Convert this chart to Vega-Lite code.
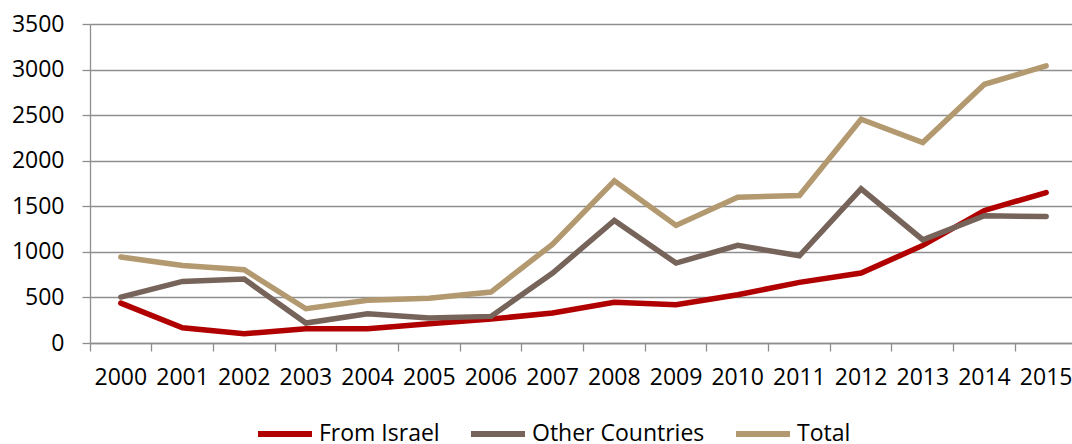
{
  "$schema": "https://vega.github.io/schema/vega-lite/v6.json",
  "width": 987,
  "height": 319,
  "autosize": {"type": "none"},
  "padding": {"left": 90, "top": 24, "right": 0, "bottom": 101},
  "background": "white",
  "config": {
    "view": {"stroke": null},
    "font": "Open Sans",
    "axis": {"labelFont": "Open Sans", "labelColor": "#000000", "domainColor": "#8e8e8e", "tickColor": "#8e8e8e", "gridColor": "#8e8e8e", "domainWidth": 1.3, "tickWidth": 1.3, "gridWidth": 1.3}
  },
  "data": {
    "values": [
      {"year": "2000", "series": "From Israel", "value": 438},
      {"year": "2001", "series": "From Israel", "value": 168},
      {"year": "2002", "series": "From Israel", "value": 102},
      {"year": "2003", "series": "From Israel", "value": 157},
      {"year": "2004", "series": "From Israel", "value": 157},
      {"year": "2005", "series": "From Israel", "value": 212},
      {"year": "2006", "series": "From Israel", "value": 263},
      {"year": "2007", "series": "From Israel", "value": 329},
      {"year": "2008", "series": "From Israel", "value": 446},
      {"year": "2009", "series": "From Israel", "value": 420},
      {"year": "2010", "series": "From Israel", "value": 530},
      {"year": "2011", "series": "From Israel", "value": 665},
      {"year": "2012", "series": "From Israel", "value": 767},
      {"year": "2013", "series": "From Israel", "value": 1071},
      {"year": "2014", "series": "From Israel", "value": 1454},
      {"year": "2015", "series": "From Israel", "value": 1651},
      {"year": "2000", "series": "Other Countries", "value": 504},
      {"year": "2001", "series": "Other Countries", "value": 676},
      {"year": "2002", "series": "Other Countries", "value": 701},
      {"year": "2003", "series": "Other Countries", "value": 219},
      {"year": "2004", "series": "Other Countries", "value": 321},
      {"year": "2005", "series": "Other Countries", "value": 274},
      {"year": "2006", "series": "Other Countries", "value": 292},
      {"year": "2007", "series": "Other Countries", "value": 767},
      {"year": "2008", "series": "Other Countries", "value": 1345},
      {"year": "2009", "series": "Other Countries", "value": 877},
      {"year": "2010", "series": "Other Countries", "value": 1071},
      {"year": "2011", "series": "Other Countries", "value": 957},
      {"year": "2012", "series": "Other Countries", "value": 1692},
      {"year": "2013", "series": "Other Countries", "value": 1133},
      {"year": "2014", "series": "Other Countries", "value": 1396},
      {"year": "2015", "series": "Other Countries", "value": 1388},
      {"year": "2000", "series": "Total", "value": 943},
      {"year": "2001", "series": "Total", "value": 851},
      {"year": "2002", "series": "Total", "value": 804},
      {"year": "2003", "series": "Total", "value": 376},
      {"year": "2004", "series": "Total", "value": 468},
      {"year": "2005", "series": "Total", "value": 490},
      {"year": "2006", "series": "Total", "value": 559},
      {"year": "2007", "series": "Total", "value": 1085},
      {"year": "2008", "series": "Total", "value": 1779},
      {"year": "2009", "series": "Total", "value": 1290},
      {"year": "2010", "series": "Total", "value": 1600},
      {"year": "2011", "series": "Total", "value": 1619},
      {"year": "2012", "series": "Total", "value": 2455},
      {"year": "2013", "series": "Total", "value": 2200},
      {"year": "2014", "series": "Total", "value": 2839},
      {"year": "2015", "series": "Total", "value": 3040}
    ]
  },
  "mark": {"type": "line", "strokeWidth": 5.5, "strokeCap": "round", "strokeJoin": "miter"},
  "encoding": {
    "x": {
      "field": "year", "type": "ordinal", "title": null,
      "scale": {"type": "band", "paddingInner": 0, "paddingOuter": 0},
      "axis": {"bandPosition": 0, "labelAngle": 0, "labelFontSize": 23, "labelPadding": 15, "tickSize": 8, "grid": false}
    },
    "y": {
      "field": "value", "type": "quantitative", "title": null,
      "scale": {"domain": [0, 3500], "nice": false},
      "axis": {"values": [0, 500, 1000, 1500, 2000, 2500, 3000, 3500], "format": "d", "labelFontSize": 23, "labelPadding": 18, "tickSize": 8, "grid": true, "labelBaseline": "middle"}
    },
    "color": {
      "field": "series", "type": "nominal", "title": null,
      "scale": {"domain": ["From Israel", "Other Countries", "Total"], "range": ["#b00000", "#76645a", "#b3996f"]},
      "legend": {"orient": "none", "legendX": 165, "legendY": 380, "direction": "horizontal", "symbolType": "stroke", "symbolSize": 2916, "symbolStrokeWidth": 6, "labelFontSize": 23, "labelFont": "Open Sans", "labelColor": "#000000", "labelOffset": 4, "columnPadding": 19, "labelLimit": 400}
    }
  }
}
